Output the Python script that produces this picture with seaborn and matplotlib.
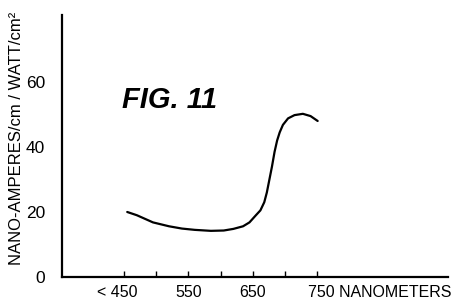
import matplotlib
matplotlib.use("Agg")
import matplotlib.pyplot as plt
import matplotlib.transforms as mtransforms
import seaborn as sns
import pandas as pd

wavelength = [455, 470, 495, 520, 540, 560, 585, 605, 620, 635, 645, 655, 662, 668,
              672, 676, 680, 684, 688, 692, 697, 705, 715, 728, 740, 751]
current = [20.0, 19.0, 16.8, 15.6, 14.9, 14.5, 14.2, 14.3, 14.8, 15.6, 16.8, 19.0, 20.5, 23.0,
           26.0, 30.0, 34.0, 38.5, 42.0, 44.5, 46.8, 48.8, 49.8, 50.2, 49.5, 48.0]
x_ticks = [450, 500, 550, 600, 650, 700, 750]
x_tick_labels = ["< 450", "", "550", "", "650", "", "750 NANOMETERS"]
y_ticks = [0, 20, 40, 60]
y_tick_labels = ["0", "20", "40", "60"]
y_label = "NANO-AMPERES/cm / WATT/cm²"
fig_title = "FIG. 11"

sns.set_theme(style="white")
plt.rcParams["font.family"] = ["Liberation Sans", "DejaVu Sans"]

df = pd.DataFrame({"wavelength": wavelength, "current": current})

fig = plt.figure(figsize=(4.56, 3.02), dpi=100)
ax = fig.add_axes([62 / 456, 25 / 302, (448 - 62) / 456, (277 - 15) / 302])
sns.lineplot(data=df, x="wavelength", y="current", ax=ax, color="black", linewidth=1.6)

ax.set_xlim(353.6, 953.6)
ax.set_ylim(0, 80.6)
for s in ["top", "right"]:
    ax.spines[s].set_visible(False)
for s in ["left", "bottom"]:
    ax.spines[s].set_color("black")
    ax.spines[s].set_linewidth(1.6)

ax.set_xticks(x_ticks)
ax.set_xticklabels(x_tick_labels, fontsize=11.5, color="black")
ax.tick_params(axis="x", direction="in", length=4, width=1, color="black", pad=6, bottom=True)
ax.set_yticks(y_ticks)
ax.set_yticklabels(y_tick_labels, fontsize=12.5, color="black")
ax.tick_params(axis="y", length=0, pad=12)

labels = ax.get_xticklabels()
labels[0].set_horizontalalignment("right")
labels[0].set_transform(labels[0].get_transform() + mtransforms.ScaledTranslation(13 / 100, 0, fig.dpi_scale_trans))
labels[6].set_horizontalalignment("left")
labels[6].set_transform(labels[6].get_transform() + mtransforms.ScaledTranslation(-9 / 100, 0, fig.dpi_scale_trans))

ax.set_xlabel("")
ax.set_ylabel("")
fig.text(17 / 456, 1 - 138 / 302, y_label, rotation=90, fontsize=12, ha="center", va="center", color="black")
fig.text(170 / 456, 1 - 100 / 302, fig_title, fontsize=21, fontweight="bold", fontstyle="italic",
         ha="center", va="center", color="black")

fig.savefig("out.png", dpi=100)
